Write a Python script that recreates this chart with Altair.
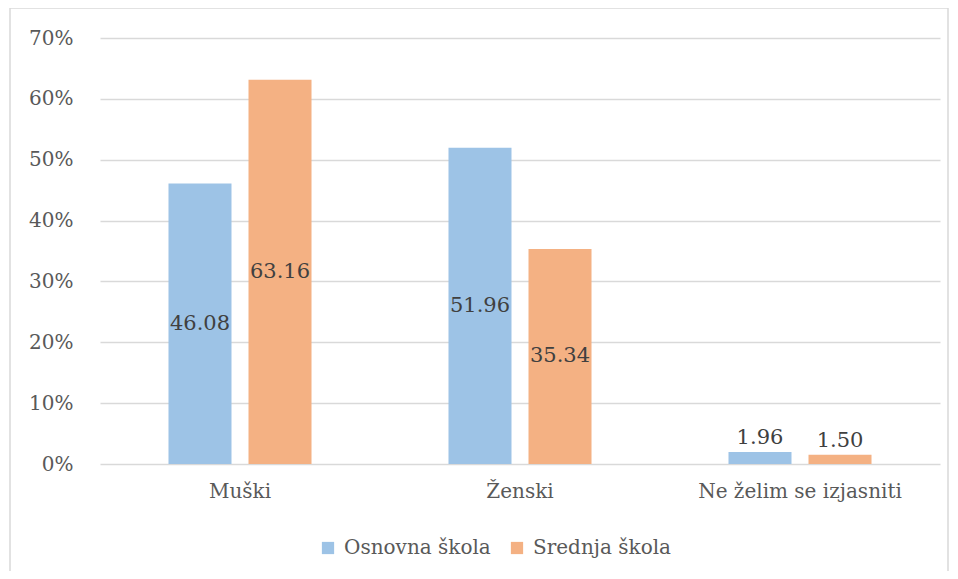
import altair as alt
import pandas as pd

categories = ["Muški", "Ženski", "Ne želim se izjasniti"]
series = ["Osnovna škola", "Srednja škola"]
osnovna = [46.08, 51.96, 1.96]
srednja = [63.16, 35.34, 1.50]
y_ticks = [0, 10, 20, 30, 40, 50, 60, 70]
colors = ["#9DC3E6", "#F4B183"]

rows = []
for c, o, s in zip(categories, osnovna, srednja):
    rows.append({"kategorija": c, "skola": series[0], "vrijednost": o, "oznaka": f"{o:.2f}"})
    rows.append({"kategorija": c, "skola": series[1], "vrijednost": s, "oznaka": f"{s:.2f}"})
df = pd.DataFrame(rows)

FONT = "DejaVu Serif"
GRAY = "#595959"
FS = 20

x = alt.X("kategorija:N", sort=categories,
          scale=alt.Scale(paddingInner=0, paddingOuter=0),
          axis=alt.Axis(title=None, labelAngle=0, ticks=False, domain=False,
                        labelPadding=17, labelFontSize=FS, labelColor=GRAY,
                        labelFont=FONT, grid=False, labelLimit=0))
xo = alt.XOffset("skola:N", sort=series,
                 scale=alt.Scale(paddingInner=0.2125, paddingOuter=0.856))
y_axis = alt.Axis(values=y_ticks, labelExpr="datum.value + '%'", title=None,
                  ticks=False, domain=False, gridColor="#d9d9d9", gridWidth=1.3,
                  labelPadding=27, labelFontSize=FS, labelColor=GRAY, labelFont=FONT)
yscale = alt.Scale(domain=[0, 70], nice=False)
color = alt.Color("skola:N", sort=series,
                  scale=alt.Scale(domain=series, range=colors),
                  legend=alt.Legend(title=None, orient="none", legendX=218, legendY=500,
                                    direction="horizontal", symbolType="square",
                                    symbolSize=150, symbolStrokeWidth=0,
                                    labelFontSize=FS, labelColor=GRAY, labelFont=FONT,
                                    columnPadding=16, labelOffset=6, labelLimit=0))

base = alt.Chart(df)

bars = base.mark_bar().encode(
    x=x, xOffset=xo,
    y=alt.Y("vrijednost:Q", scale=yscale, axis=y_axis),
    color=color,
)

inside = base.transform_filter("datum.vrijednost > 10").transform_calculate(
    mid="datum.vrijednost / 2"
).mark_text(font=FONT, fontSize=21, color="#404040", baseline="middle").encode(
    x=x, xOffset=xo,
    y=alt.Y("mid:Q", scale=yscale, axis=y_axis),
    text="oznaka:N",
)

above = base.transform_filter("datum.vrijednost <= 10").mark_text(
    font=FONT, fontSize=21, color="#404040", baseline="bottom", dy=-4
).encode(
    x=x, xOffset=xo,
    y=alt.Y("vrijednost:Q", scale=yscale, axis=y_axis),
    text="oznaka:N",
)

border = alt.Chart(pd.DataFrame({"a": [0]})).mark_rect(
    fill="transparent", stroke="#d9d9d9", strokeWidth=1.5
).encode(
    x=alt.value(-90), x2=alt.value(848), y=alt.value(-30), y2=alt.value(580)
)

chart = alt.layer(border, bars, inside, above).properties(
    width=840, height=426,
    autosize=alt.AutoSizeParams(type="none"),
    padding={"left": 92, "top": 30, "right": 10, "bottom": 107},
    background="white",
).configure_view(stroke=None)

chart.save("out.html", embed_options={"renderer": "svg", "actions": False})
